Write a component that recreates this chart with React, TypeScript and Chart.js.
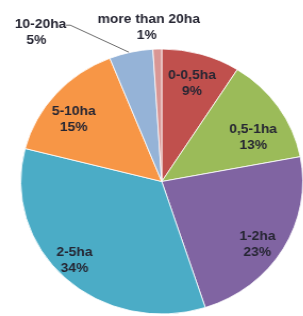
import React, { useEffect, useRef } from "react";
import { Chart, registerables } from "chart.js";

Chart.register(...registerables);

const categories = ["0-0,5ha", "0,5-1ha", "1-2ha", "2-5ha", "5-10ha", "10-20ha", "more than 20ha"];
const shares = [9, 13, 23, 34, 15, 5, 1];
const percentLabels = ["9%", "13%", "23%", "34%", "15%", "5%", "1%"];
const colors = ["#C0504D", "#9BBB59", "#8064A2", "#4BACC6", "#F79646", "#95B3D7", "#D99694"];

const SCALE_X = 1.064;
// label placement (radial fraction, angle tweak in radians) for inside labels
const insideLayout: [number, number][] = [
  [0.77, 0.0],
  [0.73, 0.12],
  [0.83, 0.08],
  [0.86, 0.05],
  [0.78, -0.08],
];

const labelPlugin = {
  id: "sliceLabels",
  afterDatasetsDraw(chart: any) {
    const ctx = chart.ctx;
    const meta = chart.getDatasetMeta(0);
    ctx.save();
    ctx.font = "bold 13px 'Liberation Sans', Arial, sans-serif";
    ctx.fillStyle = "#262633";
    ctx.textAlign = "center";
    ctx.textBaseline = "middle";
    const lh = 16;
    meta.data.forEach((arc: any, i: number) => {
      const { x, y, startAngle, endAngle, outerRadius } = arc.getProps(
        ["x", "y", "startAngle", "endAngle", "outerRadius"],
        true
      );
      const mid = (startAngle + endAngle) / 2;
      if (i <= 4) {
        const [fr, da] = insideLayout[i];
        const a = mid + da;
        const lx = x + Math.cos(a) * outerRadius * fr;
        const ly = y + Math.sin(a) * outerRadius * fr;
        ctx.fillText(categories[i], lx, ly - lh / 2);
        ctx.fillText(percentLabels[i], lx, ly + lh / 2);
      } else {
        const ax = x + Math.cos(mid) * outerRadius;
        const ay = y + Math.sin(mid) * outerRadius;
        if (i === 5) {
          const lx = ax - 85;
          const ly = ay - 20;
          ctx.strokeStyle = "#6b6b6b";
          ctx.lineWidth = 1;
          ctx.beginPath();
          ctx.moveTo(ax - 2, ay);
          ctx.lineTo(ax - 57, ay - 27);
          ctx.lineTo(ax - 61, ay - 27);
          ctx.stroke();
          ctx.fillText(categories[i], lx, ly - lh / 2);
          ctx.fillText(percentLabels[i], lx - 4, ly + lh / 2);
        } else {
          const lx = ax - 8;
          const ly = ay - 22;
          ctx.fillText(categories[i], lx, ly - lh / 2);
          ctx.fillText(percentLabels[i], lx - 2, ly + lh / 2);
        }
      }
    });
    ctx.restore();
  },
};

export default function App() {
  const ref = useRef<HTMLCanvasElement | null>(null);
  useEffect(() => {
    const canvas = ref.current!;
    const chart = new Chart(canvas, {
      type: "pie",
      data: {
        labels: categories,
        datasets: [
          {
            data: shares,
            backgroundColor: colors,
            borderColor: "rgba(255,255,255,0.8)",
            borderWidth: 1,
          },
        ],
      },
      options: {
        responsive: false,
        animation: false,
        devicePixelRatio: 1,
        layout: { padding: { left: 19, right: 0, top: 48, bottom: 1 } },
        plugins: { legend: { display: false }, tooltip: { enabled: false } },
      },
      plugins: [labelPlugin],
    });
    return () => chart.destroy();
  }, []);
  return (
    <div style={{ position: "absolute", left: 0, top: 0, width: 303, height: 316, background: "#fff", overflow: "hidden" }}>
      <canvas
        ref={ref}
        width={285}
        height={316}
        style={{ width: 285, height: 316, transform: `scaleX(${SCALE_X})`, transformOrigin: "0 0", display: "block" }}
      />
    </div>
  );
}
